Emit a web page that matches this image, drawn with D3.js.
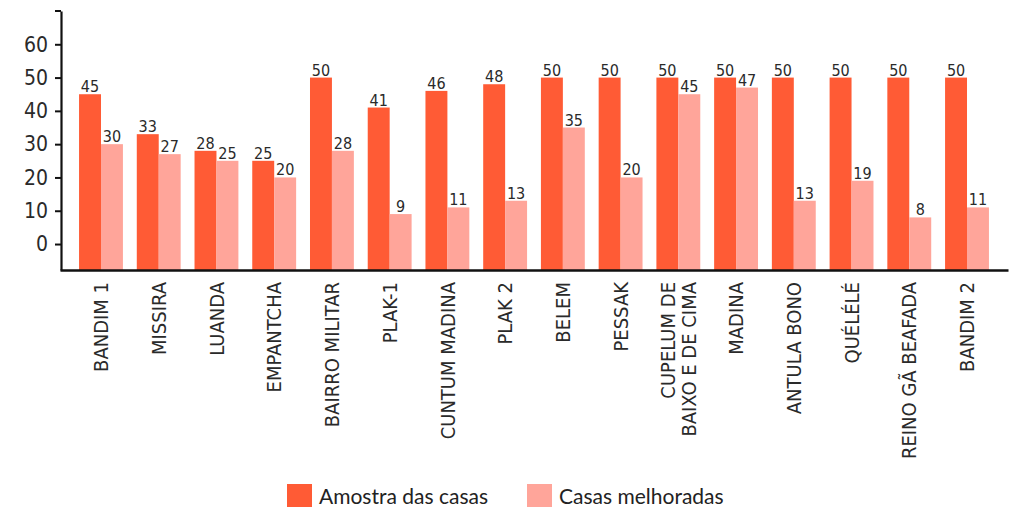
<!DOCTYPE html>
<html>
<head>
<meta charset="utf-8">
<script src="https://cdn.jsdelivr.net/npm/d3@7"></script>
<style>
  body { margin: 0; background: #fff; }
  svg { display: block; }
  .cond { font-family: "DejaVu Sans Condensed", "DejaVu Sans", sans-serif; font-stretch: condensed; }
</style>
</head>
<body>
<div id="chart"></div>
<script>
// data
var categories = ["BANDIM 1", "MISSIRA", "LUANDA", "EMPANTCHA", "BAIRRO MILITAR", "PLAK-1",
    "CUNTUM MADINA", "PLAK 2", "BELEM", "PESSAK", "CUPELUM DE|BAIXO E DE CIMA", "MADINA",
    "ANTULA BONO", "QUÉLÉLÉ", "REINO GÃ BEAFADA", "BANDIM 2"];
var amostra = [45, 33, 28, 25, 50, 41, 46, 48, 50, 50, 50, 50, 50, 50, 50, 50];
var melhoradas = [30, 27, 25, 20, 28, 9, 11, 13, 35, 20, 45, 47, 13, 19, 8, 11];
var seriesNames = ["Amostra das casas", "Casas melhoradas"];
var yTicks = [0, 10, 20, 30, 40, 50, 60];

var width = 1011;
var height = 508;

var svg = d3.select("#chart")
    .append("svg")
    .attr("width", width)
    .attr("height", height);

var color = d3.scaleOrdinal()
    .domain(seriesNames)
    .range(["#FF5B35", "#FFA59A"]);

var rows = categories.map(function (c, i) {
    return {cat: c, values: [amostra[i], melhoradas[i]]};
});

// X scale
var x = d3.scaleBand()
    .domain(categories)
    .range([60, 1008])
    .paddingInner(0.24)
    .paddingOuter(0.33);

var xSub = d3.scaleBand()
    .domain(seriesNames)
    .range([0, x.bandwidth()]);

// Y scale (axis starts a bit below zero, as in the original)
var y = d3.scaleLinear()
    .domain([-7.8, 70])
    .range([270, 11]);

// bars
var groups = svg.append("g")
    .selectAll("g")
    .data(rows)
    .join("g")
    .attr("transform", d => "translate(" + x(d.cat) + ",0)");

groups.selectAll("rect")
    .data(d => d.values.map((v, j) => ({key: seriesNames[j], value: v})))
    .join("rect")
    .attr("x", d => xSub(d.key))
    .attr("width", xSub.bandwidth())
    .attr("y", d => y(d.value))
    .attr("height", d => y.range()[0] - y(d.value))
    .attr("fill", d => color(d.key));

groups.selectAll("text.val")
    .data(d => d.values.map((v, j) => ({key: seriesNames[j], value: v})))
    .join("text")
    .attr("class", "val cond")
    .attr("x", d => xSub(d.key) + xSub.bandwidth() / 2)
    .attr("y", d => y(d.value) - 2)
    .attr("text-anchor", "middle")
    .style("font-size", "16px")
    .attr("fill", "#2a2a2a")
    .text(d => d.value);

// Y axis
var yAxis = svg.append("g")
    .attr("transform", "translate(61,0)")
    .call(d3.axisLeft(y).tickValues(yTicks).tickSize(6).tickPadding(7).tickSizeOuter(0));

yAxis.select(".domain").attr("stroke", "#111").attr("stroke-width", 2.2);
yAxis.selectAll(".tick line").attr("stroke", "#111").attr("stroke-width", 2);
yAxis.selectAll(".tick text")
    .attr("class", "cond")
    .style("font-size", "21px")
    .attr("fill", "#2a2a2a");

// small cap at the top of the y axis
yAxis.append("line")
    .attr("x1", -6).attr("x2", 0)
    .attr("y1", y.range()[1]).attr("y2", y.range()[1])
    .attr("stroke", "#111").attr("stroke-width", 2);

// X axis
var xAxis = svg.append("g")
    .attr("transform", "translate(0," + y.range()[0] + ")")
    .call(d3.axisBottom(x).tickSize(0).tickSizeOuter(0).tickFormat(""));

xAxis.select(".domain").attr("stroke", "#111").attr("stroke-width", 2.5);

// rotated category labels
var labels = svg.append("g")
    .selectAll("text")
    .data(categories)
    .join("text")
    .attr("class", "cond")
    .attr("transform", d => "translate(" + (x(d) + x.bandwidth() / 2) + ",282) rotate(-90)")
    .attr("text-anchor", "end")
    .style("font-size", "20px")
    .attr("fill", "#2a2a2a");

labels.each(function (d) {
    var parts = d.split("|");
    var t = d3.select(this);
    parts.forEach(function (p, k) {
        t.append("tspan")
            .attr("x", 0)
            .attr("y", (k - (parts.length - 1) / 2) * 21)
            .attr("dy", "0.36em")
            .text(p);
    });
});

// legend
var legendX = [287, 527];
var legend = svg.append("g")
    .selectAll("g")
    .data(seriesNames)
    .join("g")
    .attr("transform", (d, i) => "translate(" + legendX[i] + ",484)");

legend.append("rect")
    .attr("width", 25)
    .attr("height", 23)
    .attr("fill", d => color(d));

legend.append("text")
    .attr("x", 32)
    .attr("y", 20)
    .style("font-family", "Lato, sans-serif")
    .style("font-size", "21px")
    .attr("fill", "#222")
    .text(d => d);
</script>
</body>
</html>
